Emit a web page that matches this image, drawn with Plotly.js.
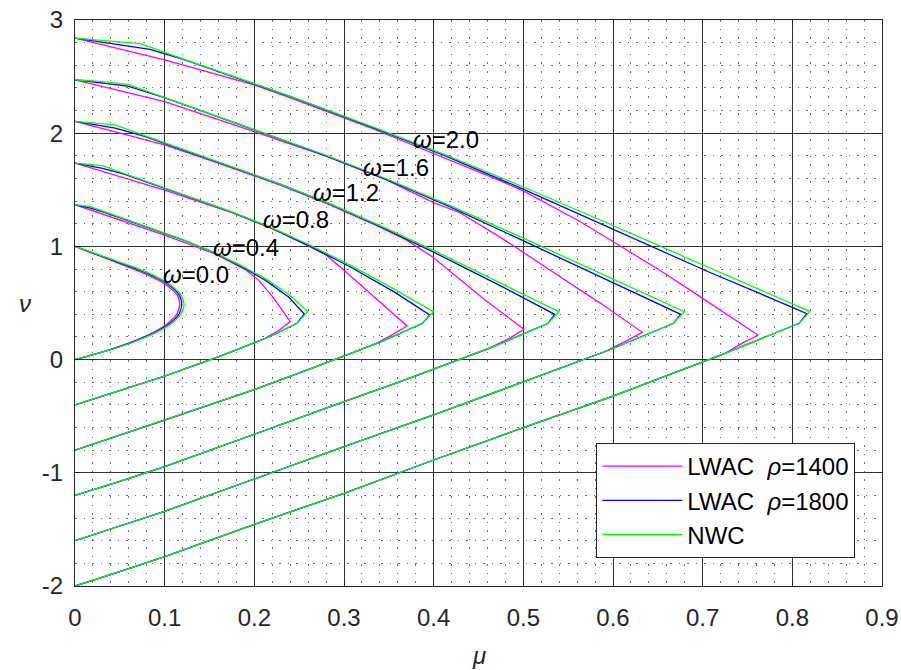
<!DOCTYPE html>
<html>
<head>
<meta charset="utf-8">
<script src="https://cdn.plot.ly/plotly-3.0.1.min.js"></script>
<style>html,body{margin:0;padding:0;background:#fff;}#chart{width:901px;height:670px;}</style>
</head>
<body>
<div id="chart"></div>
<script>
// ---- tick labels ----
const xTickVals = [0, 0.1, 0.2, 0.3, 0.4, 0.5, 0.6, 0.7, 0.8, 0.9];
const xTickText = ['0', '0.1', '0.2', '0.3', '0.4', '0.5', '0.6', '0.7', '0.8', '0.9'];
const yTickVals = [-2, -1, 0, 1, 2, 3];
const yTickText = ['-2', '-1', '0', '1', '2', '3'];

// ---- curve labels ----
const omegaLabels = ['0.0', '0.4', '0.8', '1.2', '1.6', '2.0'];
const labelMu = [0.096, 0.152, 0.2075, 0.2633, 0.319, 0.375];
const labelNu = [0.75, 0.99, 1.242, 1.476, 1.697, 1.94];

// ---- series names ----
const seriesNames = ['LWAC\u00A0 <i>ρ</i>=1400', 'LWAC\u00A0 <i>ρ</i>=1800', 'NWC'];

// ---- NWC (green) ----
const muG0 = [0, 0.0091, 0.0373, 0.068, 0.0916, 0.1083, 0.1184, 0.1217, 0.1183, 0.1081, 0.0912, 0.0675, 0.0371, 0];
const nuG0 = [1, 0.975, 0.896, 0.81, 0.729, 0.648, 0.567, 0.486, 0.405, 0.324, 0.243, 0.162, 0.081, 0];
const muG4 = [0, 0.0165, 0.032, 0.0781, 0.1211, 0.1554, 0.1853, 0.2126, 0.2386, 0.2597, 0.2476, 0.2175, 0.1657, 0.1, 0.05, 0];
const nuG4 = [1.368, 1.353, 1.309, 1.179, 1.058, 0.947, 0.83, 0.715, 0.575, 0.424, 0.321, 0.204, 0.042, -0.145, -0.275, -0.4];
const muG8 = [0, 0.0307, 0.0549, 0.1189, 0.1742, 0.2191, 0.2624, 0.3067, 0.3555, 0.3997, 0.3876, 0.3438, 0.3, 0.2638, 0.2, 0.1, 0.05, 0];
const nuG8 = [1.736, 1.713, 1.644, 1.462, 1.307, 1.165, 1.01, 0.835, 0.625, 0.424, 0.321, 0.165, 0.03, -0.077, -0.266, -0.536, -0.67, -0.8];
const muG12 = [0, 0.0448, 0.0777, 0.1597, 0.2274, 0.2829, 0.339, 0.401, 0.4725, 0.5397, 0.5276, 0.4702, 0.4, 0.362, 0.3, 0.2, 0.1, 0.05, 0];
const nuG12 = [2.104, 2.073, 1.979, 1.746, 1.555, 1.383, 1.188, 0.96, 0.684, 0.424, 0.321, 0.126, -0.085, -0.197, -0.372, -0.66, -0.946, -1.075, -1.2];
const muG16 = [0, 0.03, 0.059, 0.1006, 0.2005, 0.2805, 0.3466, 0.4165, 0.495, 0.5894, 0.6797, 0.6676, 0.5965, 0.5, 0.4601, 0.4, 0.3, 0.2, 0.1, 0.05, 0];
const nuG16 = [2.472, 2.455, 2.432, 2.313, 2.029, 1.803, 1.60, 1.367, 1.091, 0.75, 0.424, 0.321, 0.087, -0.197, -0.316, -0.489, -0.769, -1.055, -1.34, -1.47, -1.6];
const muG20 = [0, 0.04, 0.073, 0.1235, 0.2, 0.241, 0.3336, 0.4104, 0.4935, 0.5892, 0.7063, 0.8197, 0.8076, 0.7228, 0.6, 0.5583, 0.5, 0.4, 0.3, 0.2, 0.1, 0.05, 0];
const nuG20 = [2.84, 2.815, 2.792, 2.648, 2.435, 2.324, 2.051, 1.818, 1.547, 1.222, 0.816, 0.424, 0.321, 0.048, -0.322, -0.436, -0.601, -0.887, -1.181, -1.455, -1.741, -1.872, -2];

// ---- LWAC rho=1800 (blue) ----
const muB0 = [0, 0.009, 0.037, 0.067, 0.0905, 0.107, 0.1165, 0.119, 0.1165, 0.107, 0.0905, 0.067, 0.0368, 0];
const nuB0 = [1, 0.974, 0.893, 0.805, 0.725, 0.645, 0.567, 0.49, 0.41, 0.327, 0.245, 0.163, 0.081, 0];
const muB4 = [0, 0.0165, 0.032, 0.0781, 0.1211, 0.1554, 0.1853, 0.2126, 0.2386, 0.2557, 0.2476, 0.2175, 0.1657, 0.1, 0.05, 0];
const nuB4 = [1.368, 1.34, 1.302, 1.177, 1.056, 0.944, 0.824, 0.70, 0.55, 0.403, 0.321, 0.204, 0.042, -0.145, -0.275, -0.4];
const muB8 = [0, 0.0307, 0.0549, 0.1189, 0.1742, 0.2191, 0.2624, 0.3067, 0.3555, 0.3956, 0.3876, 0.3438, 0.3, 0.2638, 0.2, 0.1, 0.05, 0];
const nuB8 = [1.736, 1.69, 1.638, 1.461, 1.306, 1.163, 1.0, 0.82, 0.60, 0.394, 0.321, 0.165, 0.03, -0.077, -0.266, -0.536, -0.67, -0.8];
const muB12 = [0, 0.0448, 0.0777, 0.1597, 0.2274, 0.2829, 0.339, 0.401, 0.4725, 0.535, 0.5276, 0.4702, 0.4, 0.362, 0.3, 0.2, 0.1, 0.05, 0];
const nuB12 = [2.104, 2.045, 1.972, 1.745, 1.554, 1.38, 1.18, 0.945, 0.66, 0.40, 0.321, 0.126, -0.085, -0.197, -0.372, -0.66, -0.946, -1.075, -1.2];
const muB16 = [0, 0.059, 0.1006, 0.2005, 0.2805, 0.3466, 0.4165, 0.495, 0.5894, 0.6755, 0.6676, 0.5965, 0.5, 0.4601, 0.4, 0.3, 0.2, 0.1, 0.05, 0];
const nuB16 = [2.472, 2.415, 2.312, 2.027, 1.80, 1.595, 1.355, 1.068, 0.715, 0.40, 0.321, 0.087, -0.197, -0.316, -0.489, -0.769, -1.055, -1.34, -1.47, -1.6];
const muB20 = [0, 0.0837, 0.1235, 0.2, 0.241, 0.3336, 0.4104, 0.4935, 0.5892, 0.7063, 0.8, 0.8163, 0.8076, 0.7228, 0.6, 0.5583, 0.5, 0.4, 0.3, 0.2, 0.1, 0.05, 0];
const nuB20 = [2.84, 2.741, 2.645, 2.433, 2.32, 2.045, 1.808, 1.528, 1.19, 0.776, 0.462, 0.405, 0.321, 0.048, -0.322, -0.436, -0.601, -0.887, -1.181, -1.455, -1.741, -1.872, -2];

// ---- LWAC rho=1400 (magenta) ----
const muM0 = [0, 0.0088, 0.036, 0.0655, 0.0885, 0.105, 0.1145, 0.1168, 0.114, 0.105, 0.089, 0.066, 0.0363, 0];
const nuM0 = [1, 0.972, 0.89, 0.80, 0.72, 0.64, 0.565, 0.49, 0.41, 0.33, 0.247, 0.165, 0.082, 0];
const muM4 = [0, 0.05, 0.1, 0.1554, 0.19, 0.205, 0.2214, 0.2401, 0.228, 0.21, 0.1657, 0.1, 0.05, 0];
const nuM4 = [1.368, 1.235, 1.10, 0.935, 0.795, 0.70, 0.545, 0.336, 0.262, 0.18, 0.042, -0.145, -0.275, -0.4];
const muM8 = [0, 0.05, 0.1, 0.1742, 0.2191, 0.2624, 0.28, 0.3, 0.33, 0.3703, 0.355, 0.335, 0.3, 0.2638, 0.2, 0.1, 0.05, 0];
const nuM8 = [1.736, 1.615, 1.498, 1.30, 1.158, 0.995, 0.925, 0.79, 0.58, 0.297, 0.225, 0.14, 0.03, -0.077, -0.266, -0.536, -0.67, -0.8];
const muM12 = [0, 0.05, 0.1, 0.1597, 0.2274, 0.2829, 0.339, 0.37, 0.40, 0.4559, 0.5006, 0.485, 0.46, 0.4, 0.362, 0.3, 0.2, 0.1, 0.05, 0];
const nuM12 = [2.104, 2.0, 1.896, 1.735, 1.545, 1.372, 1.175, 1.055, 0.90, 0.535, 0.268, 0.19, 0.093, -0.085, -0.197, -0.372, -0.66, -0.946, -1.075, -1.2];
const muM16 = [0, 0.0837, 0.1, 0.2, 0.2805, 0.3466, 0.4, 0.43, 0.4745, 0.53, 0.5862, 0.6327, 0.615, 0.59, 0.5, 0.4601, 0.4, 0.3, 0.2, 0.1, 0.05, 0];
const nuM16 = [2.472, 2.308, 2.279, 2.014, 1.795, 1.59, 1.386, 1.295, 1.08, 0.79, 0.497, 0.241, 0.165, 0.067, -0.197, -0.316, -0.489, -0.769, -1.055, -1.34, -1.47, -1.6];
const muM20 = [0, 0.0837, 0.1, 0.2, 0.241, 0.3336, 0.4104, 0.47, 0.5, 0.5192, 0.5602, 0.5862, 0.65, 0.7, 0.762, 0.745, 0.725, 0.6, 0.5583, 0.5, 0.4, 0.3, 0.2, 0.1, 0.05, 0];
const nuM20 = [2.84, 2.682, 2.647, 2.426, 2.31, 2.035, 1.79, 1.595, 1.49, 1.41, 1.233, 1.109, 0.80, 0.541, 0.215, 0.15, 0.055, -0.322, -0.436, -0.601, -0.887, -1.181, -1.455, -1.741, -1.872, -2];

const FONT = 'Liberation Sans, Arial, Helvetica, sans-serif';
const families = [
  {name: seriesNames[0], color: '#FF00FF', curves: [[muM0, nuM0], [muM4, nuM4], [muM8, nuM8], [muM12, nuM12], [muM16, nuM16], [muM20, nuM20]]},
  {name: seriesNames[1], color: '#0000FF', curves: [[muB0, nuB0], [muB4, nuB4], [muB8, nuB8], [muB12, nuB12], [muB16, nuB16], [muB20, nuB20]]},
  {name: seriesNames[2], color: '#00FF00', curves: [[muG0, nuG0], [muG4, nuG4], [muG8, nuG8], [muG12, nuG12], [muG16, nuG16], [muG20, nuG20]]}
];

const traces = [];
families.forEach(function (f, fi) {
  f.curves.forEach(function (c, ci) {
    traces.push({
      type: 'scatter', mode: 'lines', x: c[0], y: c[1],
      name: f.name, legendgroup: 'g' + fi, showlegend: ci === 0,
      line: {color: f.color, width: 1.3, shape: ci === 0 ? 'spline' : 'linear', smoothing: 0.6},
      hoverinfo: 'skip'
    });
  });
});

const annotations = omegaLabels.map(function (t, i) {
  return {x: labelMu[i], y: labelNu[i], xref: 'x', yref: 'y', text: '<i>ω</i>=' + t,
          showarrow: false, xanchor: 'left', yanchor: 'middle',
          font: {family: FONT, size: 24, color: '#000'}};
});
annotations.push({x: 0.5, y: 0, xref: 'paper', yref: 'paper', text: '<i>μ</i>', showarrow: false,
  xanchor: 'center', yanchor: 'middle', yshift: -69, font: {family: FONT, size: 24, color: '#262626'}});
annotations.push({x: 0, y: 0.5, xref: 'paper', yref: 'paper', text: '<i>ν</i>', showarrow: false,
  xanchor: 'center', yanchor: 'middle', xshift: -50, font: {family: FONT, size: 24, color: '#262626'}});

const axisCommon = {
  showline: true, mirror: 'ticks', linecolor: '#262626', linewidth: 1,
  ticks: 'inside', ticklen: 6, tickcolor: '#262626', tickwidth: 1,
  showgrid: true, gridcolor: '#333333', gridwidth: 1, zeroline: false,
  tickfont: {family: FONT, size: 24, color: '#262626'}
};

const layout = {
  width: 901, height: 670,
  margin: {l: 75, r: 19, t: 20, b: 84},
  paper_bgcolor: '#fff', plot_bgcolor: '#fff',
  showlegend: true,
  xaxis: Object.assign({}, axisCommon, {
    range: [0, 0.9], tickmode: 'array', tickvals: xTickVals, ticktext: xTickText,
    ticklabelstandoff: 10,
    minor: {dtick: 0.02, showgrid: true, gridcolor: '#707070', griddash: '1.5px,7px', gridwidth: 1}
  }),
  yaxis: Object.assign({}, axisCommon, {
    range: [-2, 3], tickmode: 'array', tickvals: yTickVals, ticktext: yTickText,
    ticklabelstandoff: 6,
    minor: {dtick: 0.2, showgrid: true, gridcolor: '#707070', griddash: '1.5px,7px', gridwidth: 1}
  }),
  legend: {
    x: 0.967, y: 0.0495, xanchor: 'right', yanchor: 'bottom',
    bgcolor: '#fff', bordercolor: '#262626', borderwidth: 1,
    font: {family: FONT, size: 24, color: '#000'},
    itemwidth: 80, tracegroupgap: 0
  },
  annotations: annotations
};

Plotly.newPlot('chart', traces, layout, {staticPlot: true, displayModeBar: false});
</script>
</body>
</html>
